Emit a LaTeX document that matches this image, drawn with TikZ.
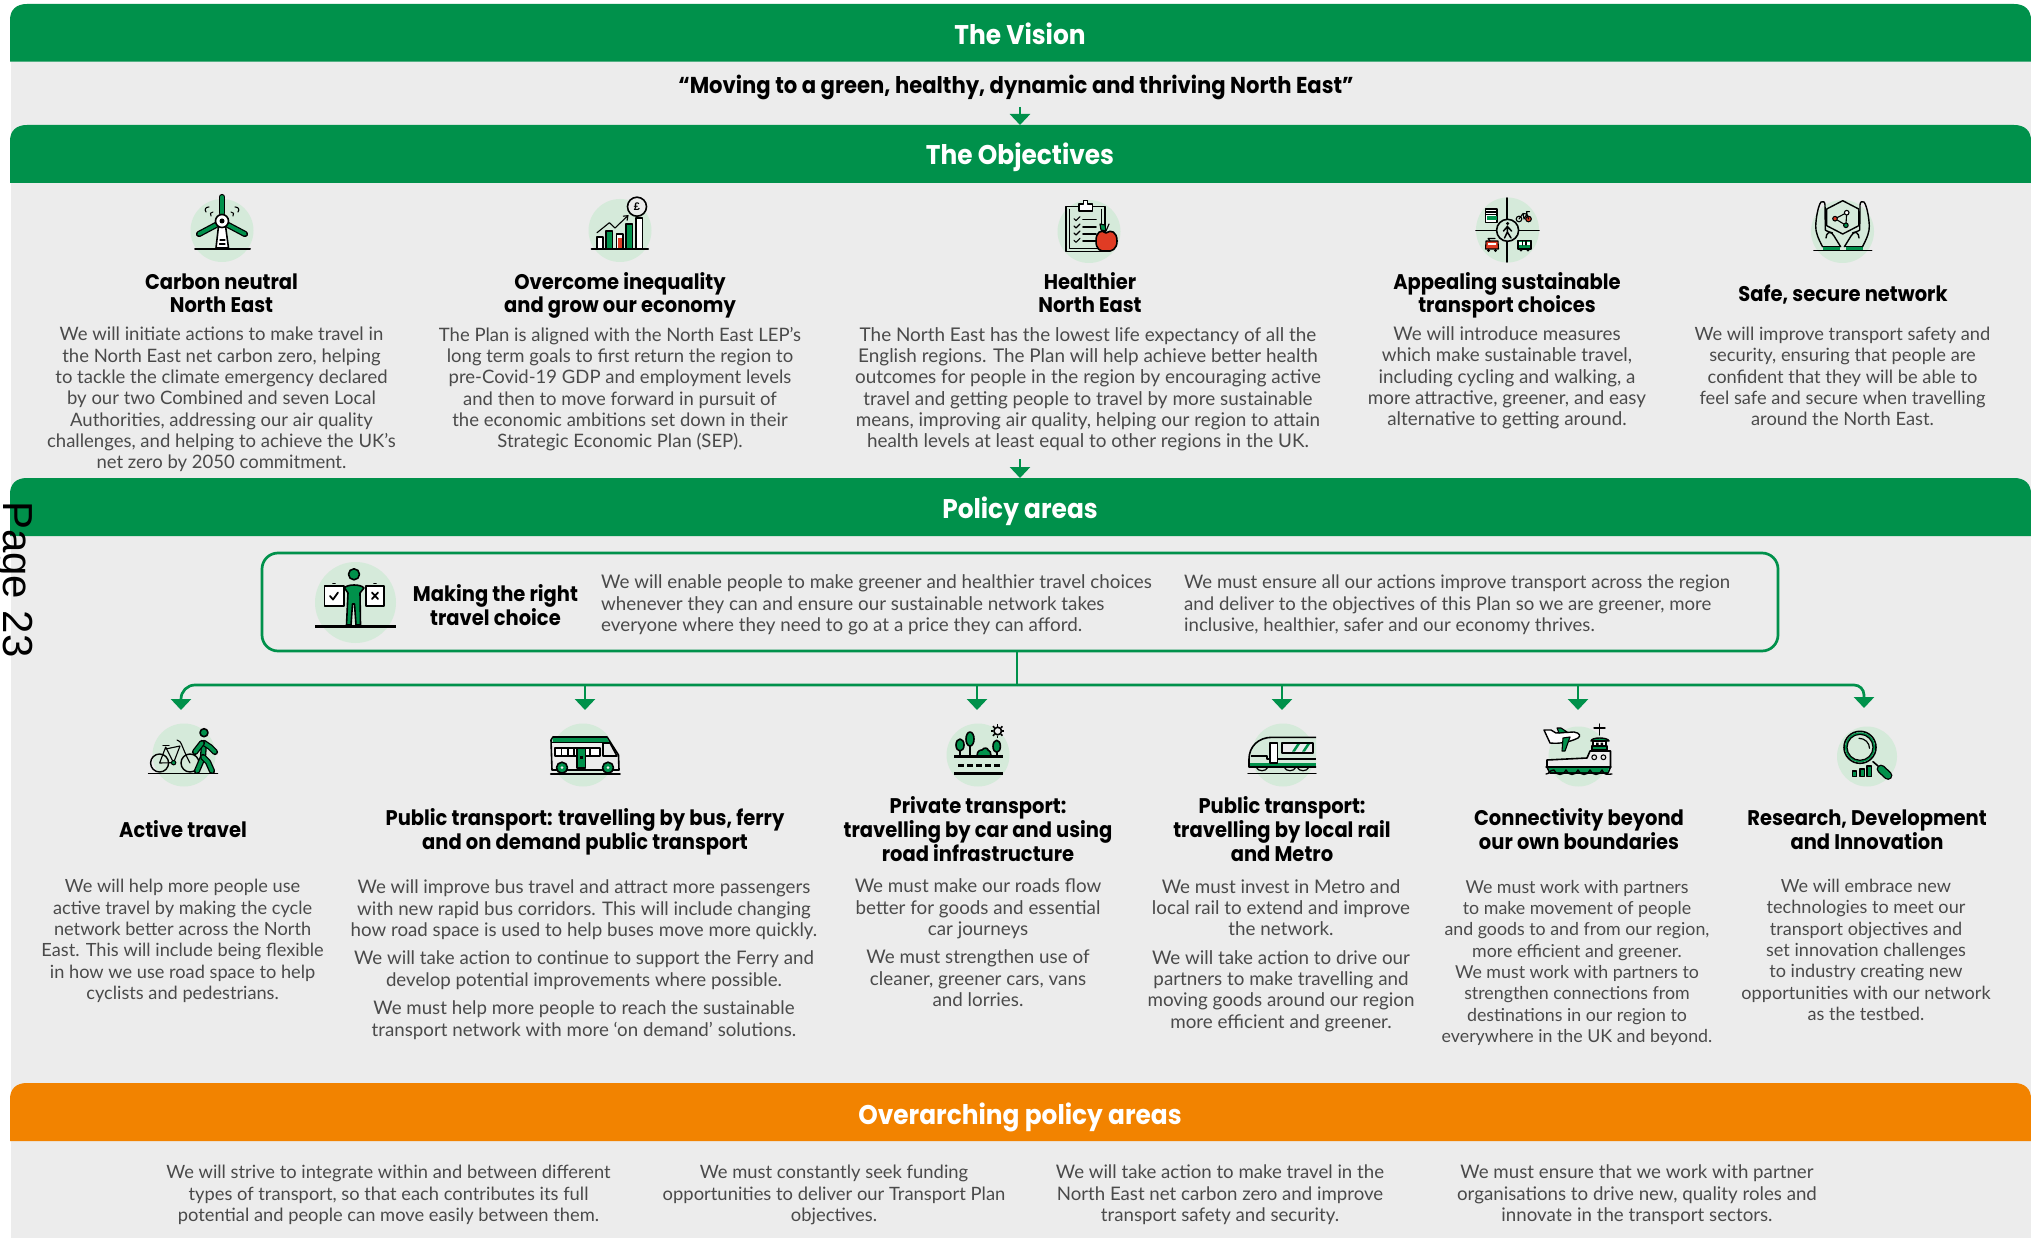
\documentclass[tikz,border=0pt]{standalone}
\usepackage{fontspec}
\usetikzlibrary{arrows.meta}
\setmainfont{Lato}
\newfontfamily\hf{Poppins}[FakeStretch=0.92]
\newfontfamily\pagef{Liberation Sans}
\definecolor{gn}{HTML}{00914B}
\definecolor{org}{HTML}{F28300}
\definecolor{bgg}{HTML}{ECECEC}
\definecolor{blob}{HTML}{D5EADA}
\definecolor{rd}{HTML}{E03C24}
\definecolor{bodyc}{HTML}{4A4A4A}
\tikzset{
  x=1pt,y=-1pt,
  bandtitle/.style={text=white,font=\hf\bfseries\fontsize{27}{32}\selectfont,inner sep=0pt,anchor=base},
  headl/.style={text=black,font=\hf\bfseries\fontsize{21.2}{23.8}\selectfont,align=center,inner sep=0pt,anchor=base},
  bsize/.style={font=\fontsize{#1}{21.35}\selectfont},
  bodyt/.style={text=bodyc,bsize=18.8,align=center,inner sep=0pt,anchor=base},
  bodyl/.style={bodyt,align=left,anchor=base west},
  conn/.style={draw=gn,line width=2.7pt},
  arr/.style={conn,-{Triangle[width=20pt,length=11pt]}},
  ic/.style={draw=black,line width=1.6pt,line join=round,line cap=round},
  thin ic/.style={draw=black,line width=1.1pt,line join=round,line cap=round},
  dbl/.style={draw=black,line width=1.3pt,double=gn,double distance=3.6pt,line cap=round,line join=round},
  blobf/.style={fill=blob,draw=none},
}
\newcommand\gband[6]{% name, top, bottom, colour, title, title baseline
  \fill[#4] (10,#3) -- (10,#2+16) .. controls (10,#2+6) and (16,#2) .. (27,#2) -- (2014,#2) .. controls (2025,#2) and (2031,#2+6) .. (2031,#2+16) -- (2031,#3) -- cycle;
  \node[bandtitle] (#1) at (1020,#6) {#5};
}
\newcommand\blobat[2]{\fill[blobf] (#1,#2) circle[radius=31.5pt];}
\begin{document}
\begin{tikzpicture}
\useasboundingbox (0,0) rectangle (2031,1238);
\fill[white] (0,0) rectangle (2031,1238);
\fill[bgg] (11,40) rectangle (2031,1238);
% bands
\gband{vision}{4}{61.7}{gn}{The Vision}{44.5}
\gband{objectives}{125}{183}{gn}{The Objectives}{165}
\gband{policy}{478}{536}{gn}{Policy areas}{518}
\gband{overarching}{1083}{1141}{org}{Overarching policy areas}{1124}
% Page label
\node[rotate=-90,anchor=base west,inner sep=0pt,text=black,font=\pagef\fontsize{42}{42}\selectfont] (pagelabel) at (4,501) {Page 23};
% Quote
\node[text=black,font=\hf\bfseries\fontsize{23}{28}\selectfont,inner sep=0pt] (quote) at (1016,87) {“Moving to a green, healthy, dynamic and thriving North East”};
\coordinate (q1) at (1020,107); \coordinate (q2) at (1020,125);
\draw[arr] (q1) -- (q2);
\coordinate (o1) at (1020,459); \coordinate (o2) at (1020,478);
\draw[arr] (o1) -- (o2);
% Objective headings
\node[headl] (h1) at (221.5,313) {Carbon neutral\\North East};
\node[headl] (h2) at (620,313) {Overcome inequality\\and grow our economy};
\node[headl] (h3) at (1090,313) {Healthier\\North East};
\node[headl] (h4) at (1507,313) {Appealing sustainable\\transport choices};
\node[headl] (h5) at (1843,301.5) {Safe, secure network};
% Objective bodies
\node[bodyt,bsize=18.5] (b1) at (221.5,468.8) {We will initiate actions to make travel in\\the North East net carbon zero, helping\\to tackle the climate emergency declared\\by our two Combined and seven Local\\Authorities, addressing our air quality\\challenges, and helping to achieve the UK’s\\net zero by 2050 commitment.};
\node[bodyt,bsize=18.5] (b2) at (620,447.8) {The Plan is aligned with the North East LEP’s\\long term goals to first return the region to\\pre-Covid-19 GDP and employment levels\\and then to move forward in pursuit of\\the economic ambitions set down in their\\Strategic Economic Plan (SEP).};
\node[bodyt,bsize=18.9] (b3) at (1088,447.8) {The North East has the lowest life expectancy of all the\\English regions. The Plan will help achieve better health\\outcomes for people in the region by encouraging active\\travel and getting people to travel by more sustainable\\means, improving air quality, helping our region to attain\\health levels at least equal to other regions in the UK.};
\node[bodyt] (b4) at (1507,425.8) {We will introduce measures\\which make sustainable travel,\\including cycling and walking, a\\more attractive, greener, and easy\\alternative to getting around.};
\node[bodyt,bsize=18.3] (b5) at (1842.5,425.8) {We will improve transport safety and\\security, ensuring that people are\\confident that they will be able to\\feel safe and secure when travelling\\around the North East.};
% Frame
\node[draw=gn,line width=2.7pt,rounded corners=16pt,minimum width=1516pt,minimum height=98pt,inner sep=0pt] (frame) at (1020,602) {};
\node[headl] (hm) at (495.5,625) {Making the right\\travel choice};
\node[bodyl] (bm1) at (601,631.5) {We will enable people to make greener and healthier travel choices\\whenever they can and ensure our sustainable network takes\\everyone where they need to go at a price they can afford.};
\node[bodyl,bsize=18.6] (bm2) at (1184,631.5) {We must ensure all our actions improve transport across the region\\and deliver to the objectives of this Plan so we are greener, more\\inclusive, healthier, safer and our economy thrives.};
% Connectors
\coordinate (hub) at (1017,685);
\coordinate (a1) at (181,710); \coordinate (a2) at (585,710); \coordinate (a3) at (977,710);
\coordinate (a4) at (1282,710); \coordinate (a5) at (1578,710); \coordinate (a6) at (1864,708);
\draw[conn] (frame.south -| hub) -- (hub);
\draw[arr,rounded corners=14pt] (hub) -- (hub -| a1) -- (a1);
\draw[arr,rounded corners=10pt] (hub) -- (hub -| a6) -- (a6);
\draw[arr] (hub -| a2) -- (a2);
\draw[arr] (hub -| a3) -- (a3);
\draw[arr] (hub -| a4) -- (a4);
\draw[arr] (hub -| a5) -- (a5);
% Policy headings
\node[headl] (p1) at (183,837) {Active travel};
\node[headl] (p2) at (585,849.3) {Public transport: travelling by bus, ferry\\and on demand public transport};
\node[headl] (p3) at (978,861) {Private transport:\\travelling by car and using\\road infrastructure};
\node[headl] (p4) at (1282,861) {Public transport:\\travelling by local rail\\and Metro};
\node[headl] (p5) at (1579,849.3) {Connectivity beyond\\our own boundaries};
\node[headl] (p6) at (1867,849.3) {Research, Development\\and Innovation};
% Policy bodies
\node[bodyt,bsize=18.2] (d1) at (182.6,999.5) {We will help more people use\\active travel by making the cycle\\network better across the North\\East. This will include being flexible\\in how we use road space to help\\cyclists and pedestrians.};
\node[bodyt,bsize=18.7] (d2) at (584,1036) {We will improve bus travel and attract more passengers\\with new rapid bus corridors. This will include changing\\how road space is used to help buses move more quickly.\\[7pt]We will take action to continue to support the Ferry and\\develop potential improvements where possible.\\[7pt]We must help more people to reach the sustainable\\transport network with more ‘on demand’ solutions.};
\node[bodyt] (d3) at (978,1006.5) {We must make our roads flow\\better for goods and essential\\car journeys\\[7pt]We must strengthen use of\\cleaner, greener cars, vans\\and lorries.};
\node[bodyt] (d4) at (1281,1028.3) {We must invest in Metro and\\local rail to extend and improve\\the network.\\[7pt]We will take action to drive our\\partners to make travelling and\\moving goods around our region\\more efficient and greener.};
\node[bodyt,bsize=17.8] (d5) at (1577,1042.5) {We must work with partners\\to make movement of people\\and goods to and from our region,\\more efficient and greener.\\We must work with partners to\\strengthen connections from\\destinations in our region to\\everywhere in the UK and beyond.};
\node[bodyt,bsize=18.1] (d6) at (1866,1020.5) {We will embrace new\\technologies to meet our\\transport objectives and\\set innovation challenges\\to industry creating new\\opportunities with our network\\as the testbed.};
% Overarching bodies
\node[bodyt,bsize=18.3] (e1) at (388.5,1221.5) {We will strive to integrate within and between different\\types of transport, so that each contributes its full\\potential and people can move easily between them.};
\node[bodyt,bsize=18.4] (e2) at (834,1221.5) {We must constantly seek funding\\opportunities to deliver our Transport Plan\\objectives.};
\node[bodyt,bsize=18.65] (e3) at (1220,1221.5) {We will take action to make travel in the\\North East net carbon zero and improve\\transport safety and security.};
\node[bodyt,bsize=18.7] (e4) at (1637,1221.5) {We must ensure that we work with partner\\organisations to drive new, quality roles and\\innovate in the transport sectors.};
% ---------- Icons ----------
% Turbine
\blobat{222}{230.5}
\draw[ic,line width=2pt] (195,249) -- (250,249);
\draw[ic,fill=white] (219,222) -- (225,222) -- (228.5,248) -- (216,248) -- cycle;
\draw[thin ic] (220,240) -- (225,240) (219.5,244) -- (225,244);
\draw[dbl] (222,197) -- (222,213);
\draw[dbl] (216,225) -- (199,234);
\draw[dbl] (228,225) -- (245,234);
\draw[ic,fill=white] (222,221) circle[radius=6.5pt];
\fill (222,221) circle[radius=2.5pt];
\draw[thin ic] (206,212) .. controls (204,209) and (206,207) .. (209,207);
\draw[thin ic] (211,216) .. controls (209,214) and (211,212) .. (213,212);
\draw[thin ic] (238,212) .. controls (240,209) and (238,207) .. (235,207);
\draw[thin ic] (233,216) .. controls (235,214) and (233,212) .. (231,212);
% Growth
\blobat{620}{230.5}
\draw[ic,line width=2pt] (591.5,249) -- (648,249);
\draw[ic,fill=white] (597,237) rectangle (603,249);
\draw[ic,fill=gn] (606,231) rectangle (612.5,249);
\draw[ic,fill=white] (616.5,234) rectangle (623,249);
\fill[rd] (617.5,238) rectangle (622,248);
\draw[ic,fill=gn] (626,224) rectangle (632.5,249);
\draw[ic,fill=white] (636,218) rectangle (642.5,249);
\draw[thin ic,-{Straight Barb[length=4pt,width=6pt]}] (597,232.7) -- (609.4,222.7) -- (615,228) -- (628.6,215);
\draw[ic,fill=bgg] (637,206.7) circle[radius=9.5pt];
\node[inner sep=0pt,font=\pagef\bfseries\fontsize{11}{11}\selectfont] (pound) at (637,206.7) {£};
% Clipboard + apple
\blobat{1089}{231.5}
\draw[ic,fill=blob] (1066,206.7) rectangle (1105,251.7);
\draw[thin ic] (1069.5,209.5) -- (1069.5,248.5) -- (1101.5,248.5) -- (1101.5,209.5);
\draw[ic,fill=white] (1079,206) -- (1079,204) -- (1083.5,204) -- (1083.5,200.5) -- (1087.5,200.5) -- (1087.5,204) -- (1092.5,204) -- (1092.5,211) -- (1079,211) -- cycle;
\foreach \yy in {218.7,226,233,240.3}{
  \draw[thin ic] (1074,\yy) -- (1076,\yy+2) -- (1080,\yy-2);
  \draw[ic] (1083,\yy+1) -- (1096,\yy+1);
}
\draw[ic,fill=rd] (1106,233) .. controls (1111,229) and (1117,232) .. (1117,241) .. controls (1117,249) and (1112,252) .. (1106,251) .. controls (1100,252) and (1096,249) .. (1096,241) .. controls (1096,232) and (1101,229) .. (1106,233) -- cycle;
\draw[thin ic,fill=gn] (1100,224) -- (1105,225) -- (1106,231) -- (1101,230) -- cycle;
\draw[thin ic] (1106,231) -- (1109,224);
% Junction
\fill[blobf] (1507.5,230) circle[x radius=31.5pt,y radius=32.5pt];
\draw[ic] (1507,198) -- (1507,262);
\draw[ic] (1476,230.7) -- (1539,230.7);
\draw[ic,fill=blob] (1507.6,230.3) circle[radius=11pt];
\fill (1507.6,223.5) circle[radius=1.7pt];
\draw[line width=1.5pt,line cap=round,line join=round] (1507.4,226) -- (1507.4,232) -- (1504.5,238) (1507.4,232) -- (1511,238) (1503.5,231) -- (1507.4,226.5) -- (1511.5,231);
\draw[thin ic,fill=white] (1485.7,209) rectangle (1497,222.7);
\fill[gn] (1486.5,216.5) rectangle (1496.5,220.5);
\draw[thin ic] (1486,212) -- (1497,212) (1486,214.5) -- (1497,214.5);
\draw[thin ic] (1519,219) circle[radius=2.8pt];
\draw[thin ic,fill=rd] (1528.5,219) circle[radius=2.8pt];
\draw[thin ic] (1519,219) -- (1523,213.5) -- (1527,214) -- (1528.5,219) (1523,213.5) -- (1524,219) -- (1527,214) (1527,214) -- (1526.5,211.7) -- (1529.5,211.7);
\draw[thin ic,fill=rd] (1486,241) -- (1498,241) -- (1498.5,249) -- (1485.5,249) -- cycle;
\fill[white] (1488,243) rectangle (1496,245.5);
\draw[thin ic] (1490,241) -- (1488,238.5) -- (1495,238.5);
\fill (1488.5,250.5) circle[radius=1.6pt] (1495.5,250.5) circle[radius=1.6pt];
\draw[thin ic,fill=gn] (1518,240.5) rectangle (1531,249);
\fill[white] (1519.3,242) rectangle (1529.8,245);
\draw[thin ic] (1522.5,241) -- (1522.5,245) (1526,241) -- (1526,245);
\fill (1521,250) circle[radius=1.6pt] (1528,250) circle[radius=1.6pt];
% Hands
\blobat{1842.5}{231.5}
\draw[ic] (1814,250.7) -- (1871.6,250.7);
\foreach \sx/\ox in {1/0,-1/3685}{
  \begin{scope}[shift={(\ox,0)},xscale=\sx]
    \fill[gn] (1822.5,246.7) rectangle (1839.5,250);
    \draw[thin ic,line width=1.4pt] (1822.5,246.7) .. controls (1818,238) and (1815.5,232) .. (1815.7,226) .. controls (1816,218) and (1818,206) .. (1821,202) .. controls (1823,200.5) and (1825,202) .. (1825,205) -- (1825.3,230) .. controls (1825.3,231) and (1832.6,232) .. (1834,236) -- (1840.6,246.7);
    \draw[thin ic,line width=1.4pt] (1822.5,246.7) -- (1840.6,246.7);
    \draw[thin ic,line width=1.4pt] (1826,238) .. controls (1826,233) and (1830,231) .. (1832.5,233);
  \end{scope}
}
\draw[ic,line width=1.4pt] (1842.7,200.7) -- (1858.7,209) -- (1858.7,225.7) -- (1842.7,234) -- (1826.7,225.7) -- (1826.7,209) -- cycle;
\draw[thin ic] (1835,218.7) -- (1846.7,212.7) -- (1845.9,225.3) -- cycle;
\draw[thin ic,fill=rd] (1835,218.7) circle[radius=2.3pt];
\draw[thin ic,fill=white] (1846.7,212.7) circle[radius=2.3pt];
\draw[thin ic,fill=gn] (1845.9,225.3) circle[radius=2.3pt];
% Choice
\fill[blobf] (355.5,602.5) circle[radius=40.5pt];
\draw[ic,line width=3pt,line cap=butt] (315,626.7) -- (395.5,626.7);
\draw[ic,fill=gn] (354,574.3) circle[radius=5.5pt];
\draw[ic,fill=white] (324.6,585.7) rectangle (343.7,605.7);
\draw[ic,fill=white] (366,585.7) rectangle (384,605.7);
\draw[ic,fill=black] (333,583.5) -- (335,583.5);
\draw[ic,fill=black] (374,583.5) -- (376,583.5);
\draw[ic,line width=1.8pt] (330,596) -- (333,599.5) -- (338,592.5);
\draw[ic,line width=1.8pt] (372,592.5) -- (378,599) (378,592.5) -- (372,599);
\draw[ic,fill=gn] (344.5,588) .. controls (347,584) and (361,584) .. (364,588) -- (360,593) -- (360.5,625) -- (356,625) -- (354.5,604) -- (352.5,604) -- (351,625) -- (346.5,625) -- (348,593) -- cycle;
% Active
\blobat{184}{755}
\draw[ic] (148.6,773.3) -- (217.5,773.3);
\draw[thin ic,line width=1.4pt] (159.6,763) circle[radius=9pt];
\draw[thin ic,line width=1.4pt] (190,763) circle[radius=9pt];
\draw[thin ic] (159.6,763) -- (173.6,762.7) -- (165.7,747) -- cycle;
\draw[thin ic] (165.7,749) -- (180,746) -- (173.6,762.7);
\draw[thin ic] (163,745.5) -- (169,745.5);
\draw[thin ic] (177,740) .. controls (182,741) and (181,746) .. (190,763);
\fill[gn,draw=black,line width=1pt] (173.6,762.7) circle[radius=2.2pt];
\draw[ic,fill=gn] (204,732.7) circle[radius=4pt];
\draw[dbl] (204,743) -- (203,757) -- (197,771);
\draw[dbl] (203,757) -- (208,762) -- (212,771);
\draw[dbl] (204,743) -- (210,747) -- (215,752);
\draw[dbl] (202,743) -- (195,752);
% Bus
\blobat{583}{755}
\draw[ic] (550.7,773.7) -- (620,773.7);
\draw[ic,fill=bgg] (553,737) -- (607,737) -- (618.5,755) -- (619,770) -- (552,770) -- (551,740) -- cycle;
\fill[gn] (552.5,738) -- (607,738) -- (609,742) -- (552.5,742) -- cycle;
\draw[ic,line width=1pt] (552,742) -- (609,742);
\draw[ic,fill=white] (555,748) rectangle (600,756);
\draw[thin ic] (561.5,748) -- (561.5,756) (568,748) -- (568,756) (574,748) -- (574,756) (590,748) -- (590,756);
\draw[ic,fill=gn] (577,748) rectangle (585.4,768);
\fill (579.5,756) rectangle (582.5,759);
\draw[ic,fill=bgg] (603,743) -- (610,743) -- (617,756) -- (603,756) -- cycle;
\draw[ic,fill=gn] (562,767.7) circle[radius=5.5pt];
\draw[ic,fill=gn] (608,767.7) circle[radius=5.5pt];
\fill[bgg] (562,767.7) circle[radius=1.5pt] (608,767.7) circle[radius=1.5pt];
% Road
\blobat{978}{755}
\draw[ic,line width=2.8pt,line cap=butt] (954,756.3) -- (1003,756.3);
\draw[ic,line width=2.8pt,line cap=butt,dash pattern=on 6pt off 3pt] (958,765.3) -- (1000,765.3);
\draw[ic,line width=2.8pt,line cap=butt] (954,773.3) -- (1003,773.3);
\draw[ic] (960,745) -- (960,756) (970,739) -- (970,756) (996.7,746) -- (996.7,756);
\draw[ic,fill=gn] (960,745) circle[x radius=4pt,y radius=6pt];
\draw[ic,fill=gn] (970,739) circle[x radius=4pt,y radius=7pt];
\draw[ic,fill=gn] (996.7,746.3) circle[x radius=3.7pt,y radius=6pt];
\draw[ic,fill=gn] (977,756) .. controls (977,750) and (981,750) .. (982,750) .. controls (984,747) and (988,748) .. (988,750) .. controls (990,750) and (991,753) .. (991,756) -- cycle;
\draw[ic,fill=bgg] (997.7,731) circle[radius=3.8pt];
\foreach \aa in {0,45,...,315}{\draw[line width=1.5pt] (997.7,731) ++(\aa:4.5pt) -- ++(\aa:2.2pt);}
% Rail
\blobat{1283}{755}
\draw[ic,line width=1.4pt] (1248,773.3) -- (1316,773.3);
\draw[ic,fill=blob,line cap=butt] (1316,737.3) -- (1272,737.3) .. controls (1258,737.3) and (1249,747) .. (1249,759) -- (1249,767) -- (1316,767);
\fill[gn] (1250,763) rectangle (1316,766.4);
\draw[ic,line cap=butt] (1250.7,756) -- (1266.7,756) -- (1266.7,759) -- (1316,759);
\draw[ic,fill=white] (1270,743) rectangle (1277.3,763);
\draw[ic,fill=bgg] (1282,743) rectangle (1312.7,752.7);
\fill[gn] (1292,751.5) -- (1297,744) -- (1300,744) -- (1295,751.5) -- cycle;
\fill[gn] (1302,751.5) -- (1307,744) -- (1310,744) -- (1305,751.5) -- cycle;
\draw[ic,line width=1.2pt] (1256,767) .. controls (1258,772) and (1266,772) .. (1268,767);
\draw[ic,line width=1.2pt] (1284,767) .. controls (1286,772) and (1294,772) .. (1296,767);
\draw[ic,line width=1.2pt] (1297,767) .. controls (1299,772) and (1307,772) .. (1309,767);
% Connectivity
\fill[blobf] (1578.5,756.5) circle[radius=30pt];
\draw[thin ic,line width=1.4pt,fill=white] (1544,730) -- (1551,730) -- (1556,733) -- (1574,732) .. controls (1580,733) and (1581,736) .. (1578,738) .. controls (1570,742) and (1560,744) .. (1550,743) -- cycle;
\draw[thin ic,fill=gn] (1563,738) -- (1570,737) -- (1565,751) -- (1562,751) -- cycle;
\draw[thin ic,fill=gn] (1557,728) -- (1561,728) -- (1567,732) -- (1559,733) -- cycle;
\draw[ic,line width=1.4pt] (1599.3,724) -- (1599.3,735) (1594,728) -- (1605,728);
\draw[ic,line width=1.4pt,fill=gn] (1591,741) .. controls (1591,737) and (1608,737) .. (1609,741) -- cycle;
\draw[thin ic,fill=white] (1593,741) rectangle (1606,746);
\fill (1596,742.5) rectangle (1598.5,745) (1600.5,742.5) rectangle (1603,745);
\draw[ic,line width=1.4pt,fill=gn] (1592,746) rectangle (1607,750);
\draw[ic,fill=bgg] (1547,760) -- (1587,758) -- (1590,751) -- (1610.5,751) -- (1610.5,767) -- (1608,773) -- (1550,773) -- (1547,767) -- cycle;
\fill[gn] (1548.5,767.5) -- (1609,767.5) -- (1608,772) -- (1550,772) -- cycle;
\draw[ic,line width=1.2pt] (1546,767) -- (1611,767);
\draw[ic,line width=1.3pt] (1546,774) .. controls (1550,774) and (1549,770) .. (1554,770) .. controls (1556,776) and (1564,776) .. (1566,770) .. controls (1568,776) and (1576,776) .. (1578,770) .. controls (1580,776) and (1588,776) .. (1590,770) .. controls (1592,776) and (1600,776) .. (1602,770) .. controls (1604,776) and (1608,774) .. (1612,774);
\draw[thin ic] (1594.2,757.3) circle[radius=2.4pt] (1603.4,757.3) circle[radius=2.4pt];
% Research
\fill[blobf] (1867,756.5) circle[radius=30pt];
\draw[ic] (1873,761.7) -- (1878,766);
\draw[draw=black,line width=1.4pt,double=gn,double distance=6pt,line cap=round] (1881,769) -- (1888,775.5);
\draw[ic,fill=bgg] (1860,747.3) circle[radius=16pt];
\fill[gn] (1860,747.3) circle[radius=15pt];
\draw[ic,line width=1.2pt,fill=blob] (1860,747.3) circle[radius=13pt];
\draw[ic,line width=1.2pt] (1859,738.3) .. controls (1865,738.3) and (1869.5,743) .. (1869.5,748.3);
\draw[thin ic,fill=gn] (1852.5,771) rectangle (1856.6,776.7);
\draw[thin ic,fill=gn] (1860,769) rectangle (1864.4,776.7);
\draw[thin ic,fill=gn] (1867,766) rectangle (1871.5,776.7);
\end{tikzpicture}
\end{document}
